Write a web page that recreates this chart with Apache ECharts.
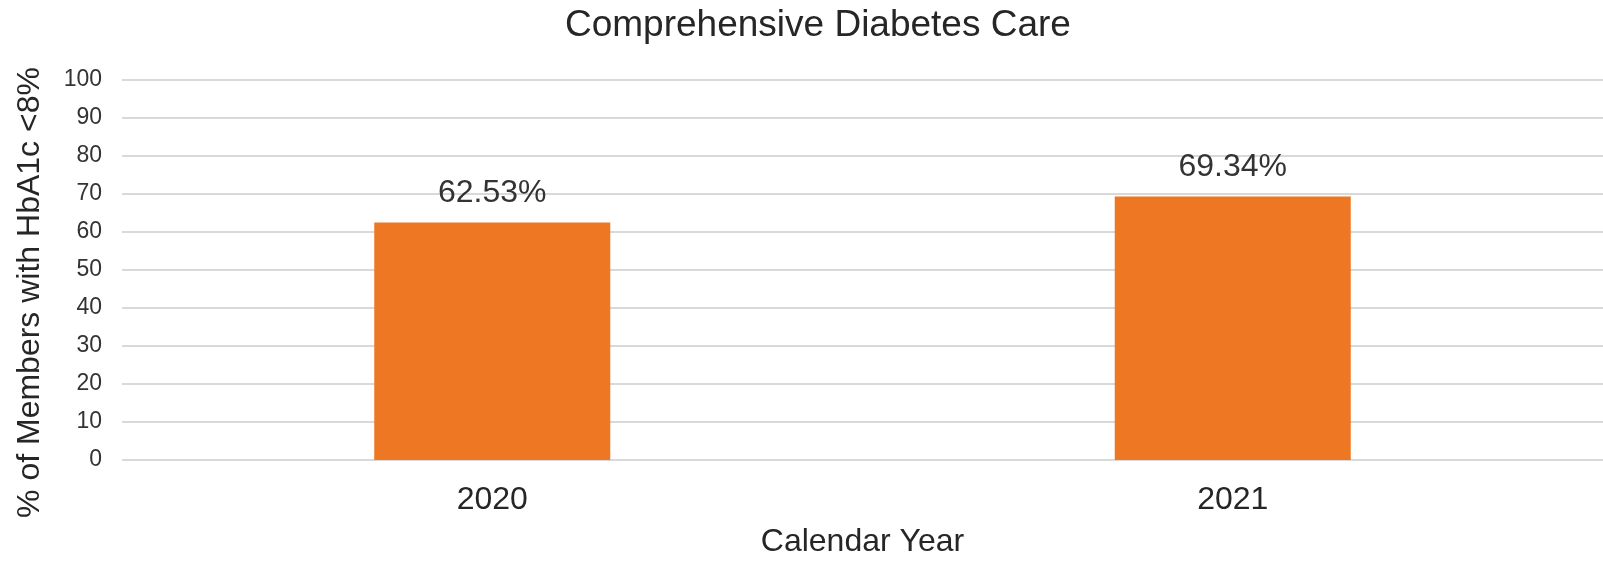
<!DOCTYPE html>
<html>
<head>
<meta charset="utf-8">
<script src="https://cdn.jsdelivr.net/npm/echarts@6/dist/echarts.min.js"></script>
<style>
html,body{margin:0;padding:0;background:#fff;}
#main{width:1603px;height:563px;}
</style>
</head>
<body>
<div id="main"></div>
<script>
const categories = ['2020', '2021'];
const values = [62.53, 69.34];
const yTicks = [0, 10, 20, 30, 40, 50, 60, 70, 80, 90, 100];

const chart = echarts.init(document.getElementById('main'), null, {renderer: 'canvas'});
const font = 'Liberation Sans, Arial, sans-serif';
chart.setOption({
  backgroundColor: '#ffffff',
  animation: false,
  title: {
    text: 'Comprehensive Diabetes Care',
    left: 565,
    top: 7,
    padding: 0,
    textStyle: {fontFamily: font, fontSize: 37, fontWeight: 'normal', color: '#262626'}
  },
  grid: {left: 122, top: 80, width: 1506, height: 388, containLabel: false},
  xAxis: {
    type: 'category',
    data: categories,
    axisLine: {show: false},
    axisTick: {show: false},
    axisLabel: {fontFamily: font, fontSize: 32, color: '#262626', margin: 24},
    name: 'Calendar Year',
    nameLocation: 'middle',
    nameGap: 66,
    nameTextStyle: {fontFamily: font, fontSize: 32, color: '#262626'}
  },
  yAxis: {
    type: 'value',
    min: 0,
    max: 100,
    interval: 10,
    axisLine: {show: false},
    axisTick: {show: false},
    axisLabel: {fontFamily: font, fontSize: 23, color: '#333333', margin: 20,
      formatter: v => yTicks.includes(v) ? String(v) : ''},
    splitLine: {lineStyle: {color: '#d9d9d9', width: 2}},
    name: '% of Members with HbA1c <8%',
    nameLocation: 'middle',
    nameGap: 76,
    nameTextStyle: {fontFamily: font, fontSize: 32, color: '#262626', padding: [0, 45, 0, 0]}
  },
  series: [{
    type: 'bar',
    data: values,
    barWidth: 236,
    itemStyle: {color: '#ED7723'},
    label: {
      show: true,
      position: 'top',
      distance: 13,
      formatter: p => p.value.toFixed(2) + '%',
      fontFamily: font, fontSize: 32, color: '#333333'
    }
  }]
});
</script>
</body>
</html>
